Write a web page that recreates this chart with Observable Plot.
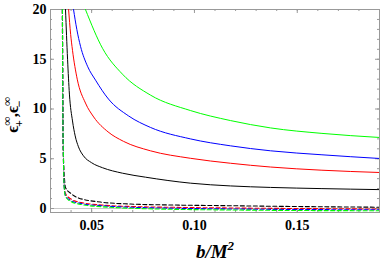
<!DOCTYPE html>
<html><head><meta charset="utf-8">
<script src="https://cdn.jsdelivr.net/npm/d3@7"></script>
<script src="https://cdn.jsdelivr.net/npm/@observablehq/plot@0.6"></script>
<style>body{margin:0;background:#fff;} svg{display:block;} svg text{font-family:"Liberation Serif","Times New Roman","DejaVu Serif",serif !important;}</style>
</head><body><div id="chart"></div>
<script>
// ---- data ----
const bBlack   = [0.0373, 0.0383, 0.0392, 0.0407, 0.042, 0.0436, 0.046, 0.050, 0.0553, 0.065, 0.0762, 0.098, 0.1175, 0.137, 0.162, 0.19];
const epsBlack = [20, 15, 11.5, 8.8, 7.3, 6.2, 5.3, 4.6, 4.1, 3.55, 3.15, 2.55, 2.27, 2.12, 2.0, 1.9];
const bRed     = [0.0388, 0.0398, 0.0407, 0.043, 0.047, 0.051, 0.058, 0.0655, 0.0786, 0.098, 0.1175, 0.137, 0.162, 0.19];
const epsRed   = [20, 17.5, 15.9, 13, 10.6, 9.2, 7.7, 6.75, 5.8, 5.05, 4.55, 4.17, 3.85, 3.62];
const bBlue    = [0.0412, 0.0428, 0.0446, 0.048, 0.0519, 0.0582, 0.068, 0.0786, 0.098, 0.1175, 0.137, 0.162, 0.19];
const epsBlue  = [20, 18, 16.3, 14.3, 12.9, 11.0, 9.3, 8.15, 7.0, 6.3, 5.8, 5.4, 5.03];
const bGreen   = [0.047, 0.0553, 0.065, 0.0786, 0.098, 0.1175, 0.137, 0.162, 0.19];
const epsGreen = [20, 16.1, 13.5, 11.4, 9.85, 8.84, 8.1, 7.55, 7.14];

const bDash        = [0.0358, 0.036, 0.0363, 0.0368, 0.0373, 0.040, 0.0431, 0.0543, 0.069, 0.09, 0.1175, 0.15, 0.19];
const epsDashBlack = [20, 10, 5, 3, 2.1, 1.5, 1.1, 0.65, 0.45, 0.35, 0.28, 0.2, 0.13];
const bDash2       = [0.0358, 0.036, 0.0363, 0.0366, 0.0373, 0.040, 0.045, 0.055, 0.07, 0.09, 0.12, 0.15, 0.19];
const epsDashRed   = [20, 10, 5, 2.5, 1.5, 0.95, 0.6, 0.35, 0.2, 0.12, 0.05, 0.0, -0.05];
const epsDashBlue  = [20, 10, 5, 2.4, 1.3, 0.8, 0.5, 0.28, 0.12, 0.03, -0.05, -0.1, -0.13];
const epsDashGreen = [20, 10, 5, 2.3, 1.2, 0.7, 0.4, 0.18, 0.02, -0.08, -0.15, -0.2, -0.22];

const xMajor = [0.05, 0.10, 0.15];
const xMinor = d3.range(3, 20).map(d => d / 100);
const yMajor = [0, 5, 10, 15, 20];
const yMinor = d3.range(0, 21);

const solid = [
  {name: "black", color: "#000000", b: bBlack, e: epsBlack},
  {name: "red",   color: "#ff0000", b: bRed,   e: epsRed},
  {name: "blue",  color: "#0000ff", b: bBlue,  e: epsBlue},
  {name: "green", color: "#00ff00", b: bGreen, e: epsGreen}
];
const dashed = [
  {name: "black", color: "#000000", b: bDash,  e: epsDashBlack},
  {name: "red",   color: "#ff0000", b: bDash2, e: epsDashRed},
  {name: "blue",  color: "#0000ff", b: bDash2, e: epsDashBlue},
  {name: "green", color: "#00ff00", b: bDash2, e: epsDashGreen}
];
const rows = s => s.b.map((b, i) => ({b, eps: s.e[i]}));

const W = 382, H = 264, mL = 50, mR = 3, mT = 9, mB = 52;
const fw = W - mL - mR, fh = H - mT - mB;
const tickCol = "#999";
const serif = "Liberation Serif, Times New Roman, DejaVu Serif, serif";

const marks = [
  Plot.ruleY([0], {stroke: "#c8c8c8", strokeWidth: 1.2}),
  Plot.frame({stroke: tickCol}),
  Plot.tickY(yMajor, {y: d => d, stroke: tickCol, insetRight: fw - 4}),
  Plot.tickY(yMajor, {y: d => d, stroke: tickCol, insetLeft: fw - 4}),
  Plot.tickY(yMinor, {y: d => d, stroke: tickCol, insetRight: fw - 2}),
  Plot.tickY(yMinor, {y: d => d, stroke: tickCol, insetLeft: fw - 2}),
  Plot.tickX(xMajor, {x: d => d, stroke: tickCol, insetTop: fh - 4}),
  Plot.tickX(xMajor, {x: d => d, stroke: tickCol, insetBottom: fh - 4}),
  Plot.tickX(xMinor, {x: d => d, stroke: tickCol, insetTop: fh - 2}),
  Plot.tickX(xMinor, {x: d => d, stroke: tickCol, insetBottom: fh - 2}),
  Plot.axisY(yMajor, {tickSize: 0, tickPadding: 4, label: null, fontSize: 14, fontWeight: "bold", fontFamily: serif}),
  Plot.axisX(xMajor, {tickSize: 0, tickPadding: 8, label: null, fontSize: 14, fontWeight: "bold", fontFamily: serif, tickFormat: d3.format(".2f")})
];
for (const s of solid) {
  marks.push(Plot.line(rows(s), {x: "b", y: "eps", stroke: s.color, strokeWidth: 1, curve: "monotone-x", clip: true}));
}
for (const s of dashed) {
  marks.push(Plot.line(rows(s), {x: "b", y: "eps", stroke: s.color, strokeWidth: 1.1, strokeDasharray: "4,2.5", curve: "monotone-x", clip: true}));
}

const chart = Plot.plot({
  width: W, height: H,
  marginLeft: mL, marginRight: mR, marginTop: mT, marginBottom: mB,
  style: {fontFamily: serif, background: "#fff", color: "#000"},
  x: {domain: [0.03, 0.19], axis: null},
  y: {domain: [-0.4, 20], axis: null},
  marks
});

const svg = d3.select(chart);
svg.append("text")
  .attr("transform", "translate(18,115) rotate(-90)")
  .attr("text-anchor", "middle")
  .attr("font-weight", "bold")
  .attr("font-size", 17)
  .html('ϵ<tspan font-size="12" dy="-7">∞</tspan><tspan font-size="12" dx="-10" dy="12">+</tspan><tspan dx="3" dy="-5">,ϵ</tspan><tspan font-size="12" dy="-7">∞</tspan><tspan font-size="12" dx="-10" dy="12">−</tspan>');
svg.append("text")
  .attr("x", 215).attr("y", 258)
  .attr("text-anchor", "middle")
  .attr("font-weight", "bold")
  .attr("font-style", "italic")
  .attr("font-size", 19)
  .html('b/M<tspan font-size="13" dy="-8">2</tspan>');

document.getElementById("chart").appendChild(chart);
</script>
</body></html>
